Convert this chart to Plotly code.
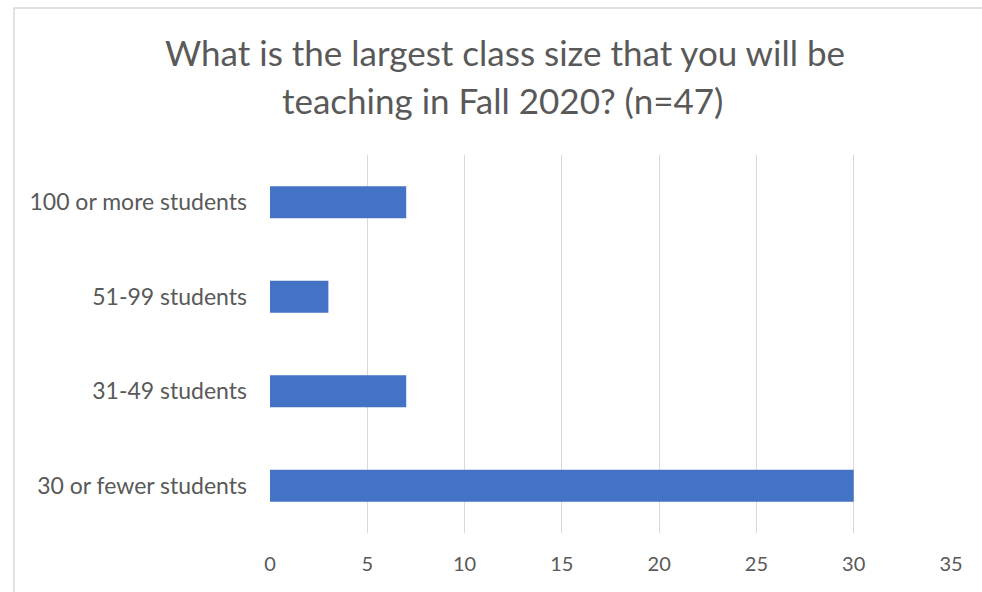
import plotly.graph_objects as go

categories = ["30 or fewer students", "31-49 students", "51-99 students", "100 or more students"]
counts = [30, 7, 3, 7]
x_ticks = [0, 5, 10, 15, 20, 25, 30, 35]
title_lines = ["What is the largest class size that you will be", "teaching in Fall 2020? (n=47)"]

W, H = 982, 592
L, R, T, B = 270, 31, 155, 59
PW, PH = W - L - R, H - T - B

def px(x):
    return (x - L) / PW

def py(y):
    return (H - B - y) / PH

TEXT = "#595959"
FONT = "Lato"

fig = go.Figure(go.Bar(
    y=categories, x=counts, orientation="h",
    marker=dict(color="#4472C4", line=dict(width=0)),
    hoverinfo="x+y",
))

fig.update_layout(
    width=W, height=H,
    margin=dict(l=L, r=R, t=T, b=B, autoexpand=False),
    paper_bgcolor="white", plot_bgcolor="white",
    showlegend=False, bargap=0.66,
    font=dict(family=FONT, color=TEXT),
    xaxis=dict(range=[0, 35], tickvals=x_ticks, showgrid=True, gridcolor="#d9d9d9",
               gridwidth=1, zeroline=False, showline=False, ticks="",
               tickfont=dict(size=20, color=TEXT, family=FONT), ticklabelstandoff=17),
    yaxis=dict(showgrid=False, zeroline=False, showline=False, ticks="",
               tickfont=dict(size=23, color=TEXT, family=FONT), ticklabelstandoff=22),
    shapes=[dict(type="rect", xref="paper", yref="paper",
                 x0=px(14), x1=px(990), y0=py(600), y1=py(8),
                 line=dict(color="#d9d9d9", width=1.5), fillcolor="rgba(0,0,0,0)", layer="below")],
    annotations=[
        dict(text=title_lines[0], xref="paper", yref="paper", x=px(505), y=py(52),
             xanchor="center", yanchor="middle", showarrow=False,
             font=dict(size=35, color=TEXT, family=FONT)),
        dict(text=title_lines[1], xref="paper", yref="paper", x=px(502), y=py(100),
             xanchor="center", yanchor="middle", showarrow=False,
             font=dict(size=35, color=TEXT, family=FONT)),
    ],
)

fig.write_html("out.html", config={"displayModeBar": False},
               post_script="document.body.style.margin='0';document.body.style.overflow='hidden';")
